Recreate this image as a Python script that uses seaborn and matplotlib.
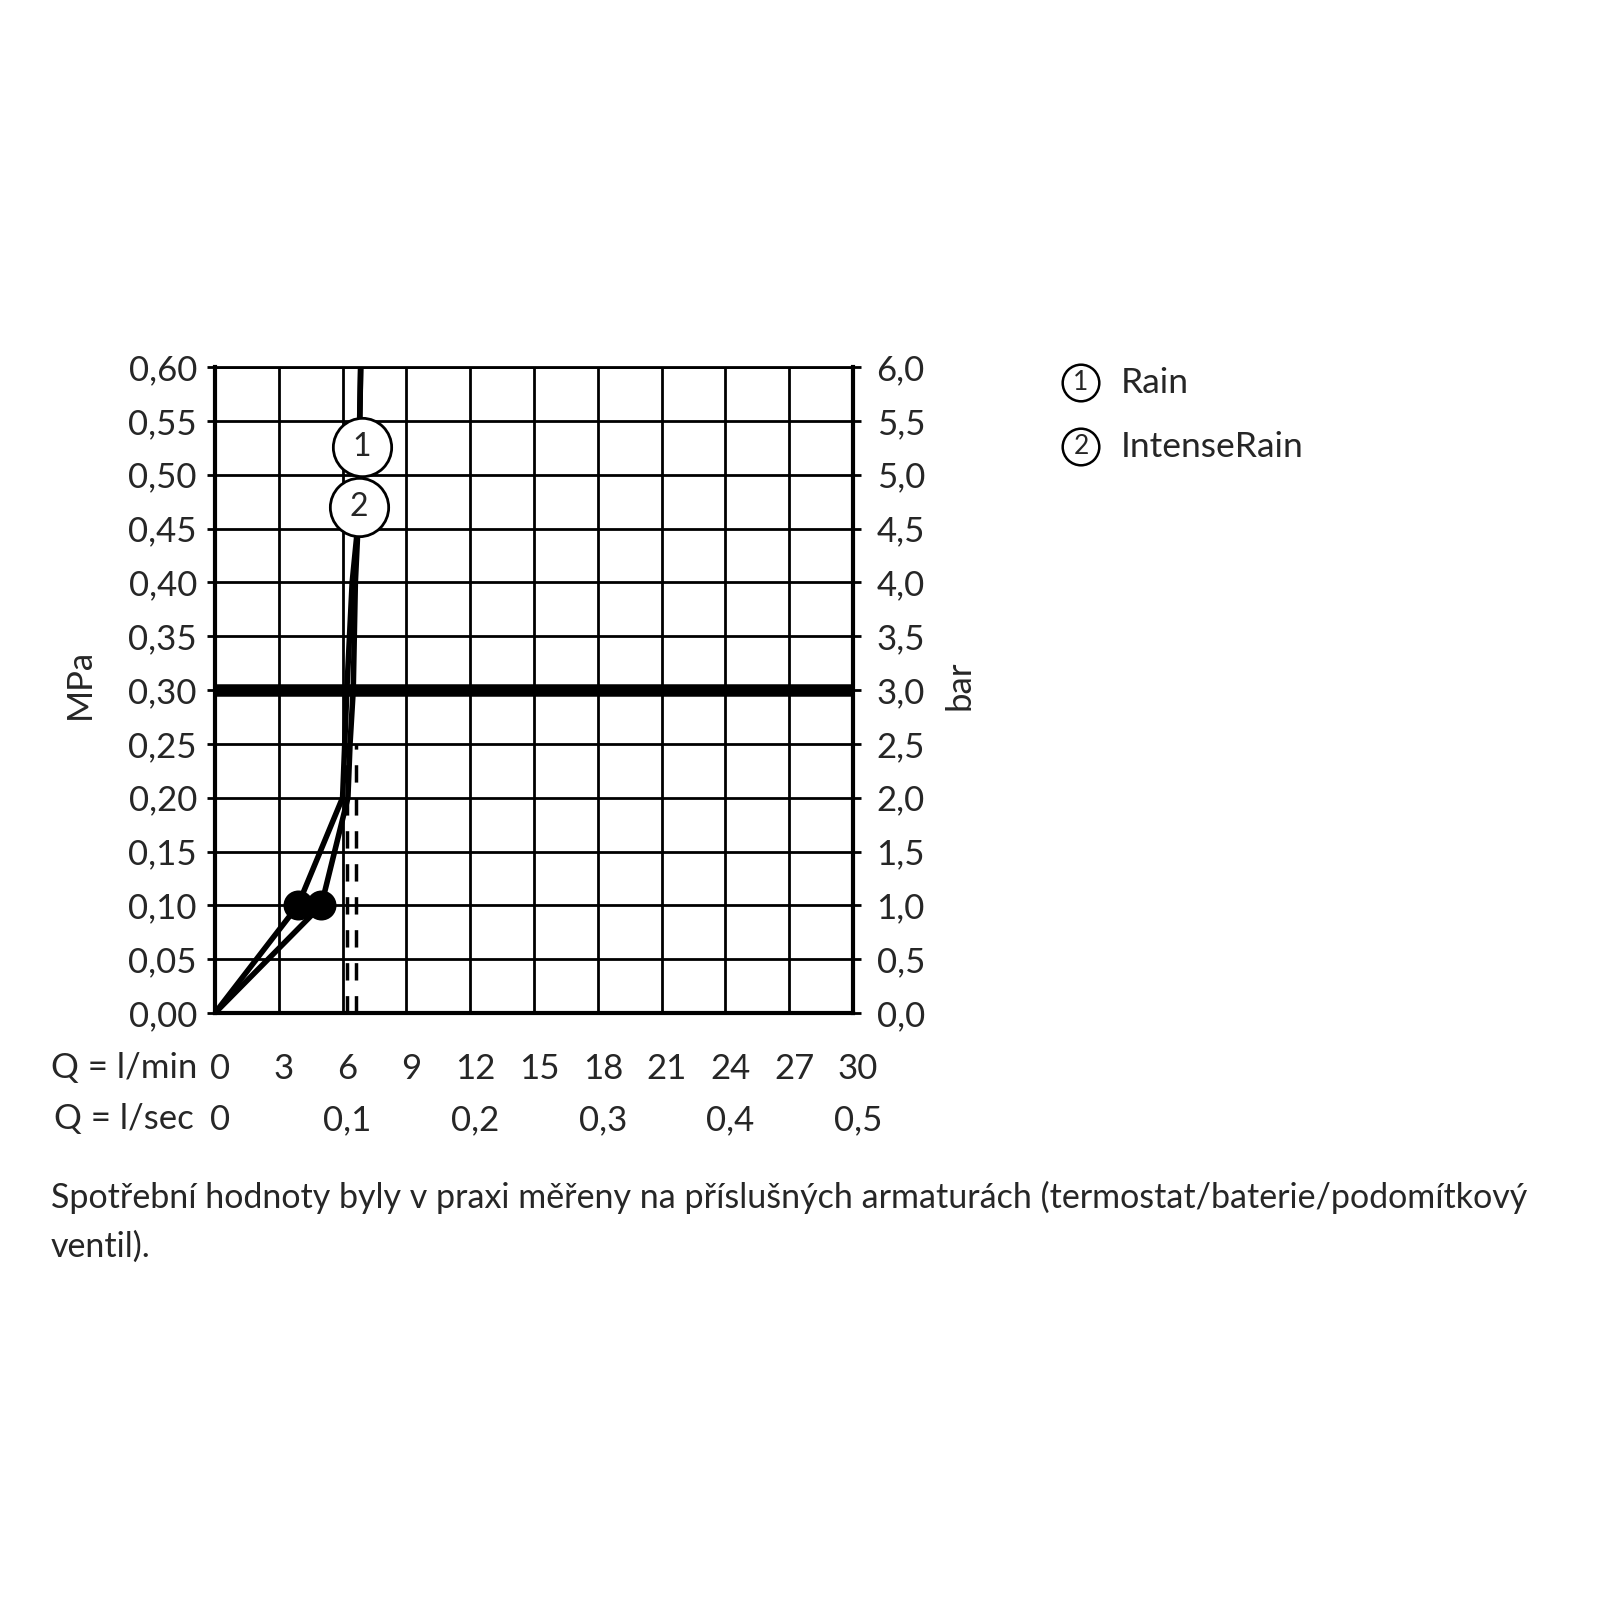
import matplotlib
matplotlib.use("Agg")
import matplotlib.pyplot as plt
import matplotlib.transforms as mtrans
import seaborn as sns
import pandas as pd

sns.set_theme(style="white")
plt.rcParams['font.family'] = ['Lato', 'DejaVu Sans']

# flow (l/min) vs pressure (MPa)
press = [0, 0.10, 0.20, 0.25, 0.30, 0.40, 0.45, 0.60]
flow_rain = [0, 3.9, 6.0, 6.1, 6.2, 6.45, 6.7, 6.85]
flow_intense = [0, 5.0, 6.25, 6.35, 6.5, 6.6, 6.72, 6.85]

# operating points at 0.1 MPa
dot_flow = [3.9, 5.0]
dot_press = [0.10, 0.10]

# dashed flow markers
dash_flow = [6.2, 6.65]
dash_top = 0.25

# circle labels on the curves
label_num = ["1", "2"]
label_flow = [6.89, 6.77]
label_press = [0.526, 0.47]

names = ["Rain", "IntenseRain"]

xticks = list(range(0, 31, 3))
yticks = [i * 0.05 for i in range(13)]
sec_ticks = [0, 0.1, 0.2, 0.3, 0.4, 0.5]
bar_ticks = [i * 0.5 for i in range(13)]

caption = ["Spotřební hodnoty byly v praxi měřeny na příslušných armaturách "
           "(termostat/baterie/podomítkový",
           "ventil)."]

df = pd.DataFrame({
    "flow": flow_rain + flow_intense,
    "pressure": press + press,
    "series": [names[0]] * len(press) + [names[1]] * len(press),
})

def comma(v, fmt):
    return format(v, fmt).replace(".", ",")

fs = 25

fig = plt.figure(figsize=(16, 16), dpi=100)
ax = fig.add_axes([215/1600, 1 - 1013/1600, 638/1600, 646/1600])

ax.set_xlim(0, 30)
ax.set_ylim(0, 0.60)
ax.set_xticks(xticks)
ax.set_yticks(yticks)
ax.grid(True, color="black", lw=2)
ax.set_axisbelow(True)

sns.lineplot(data=df, x="flow", y="pressure", hue="series", palette=["black", "black"],
             sort=False, estimator=None, legend=False, lw=4, ax=ax)
sns.scatterplot(x=dot_flow, y=dot_press, s=20**2, color="black", edgecolor="black", ax=ax, zorder=5)
ax.vlines(dash_flow, 0, dash_top, colors="black", lw=2.5, linestyles=(0, (5, 4.5)), zorder=4)
ax.axhline(0.30, color="black", lw=9, zorder=6)

for n, fx, fy in zip(label_num, label_flow, label_press):
    ax.scatter([fx], [fy], s=42**2, facecolor="white", edgecolor="black", lw=2, zorder=7, clip_on=False)
    ax.text(fx, fy, n, ha="center", va="center", fontsize=23, zorder=8)

ax.set_xticklabels([str(t) for t in xticks], fontsize=fs)
ax.set_yticklabels([comma(t, ".2f") for t in yticks], fontsize=fs)
ax.set_xlabel("")
ax.set_ylabel("")
ax.tick_params(axis="x", direction="out", length=6, width=2, pad=23, color="black")
ax.tick_params(axis="y", direction="out", length=6, width=2, pad=7, color="black")
shift = mtrans.ScaledTranslation(5/100, 0, fig.dpi_scale_trans)
for lbl in ax.get_xticklabels():
    lbl.set_transform(lbl.get_transform() + shift)
for s in ["left", "right", "bottom"]:
    ax.spines[s].set_linewidth(3)
    ax.spines[s].set_color("black")
ax.spines["top"].set_linewidth(2)
ax.spines["top"].set_color("black")

ax2 = ax.twinx()
ax2.set_ylim(0, 6)
ax2.set_yticks(bar_ticks)
ax2.set_yticklabels([comma(t, ".1f") for t in bar_ticks], fontsize=fs)
ax2.tick_params(axis="y", direction="out", length=6, width=2, pad=11, color="black")
for s in ax2.spines.values():
    s.set_visible(False)

sec = ax.secondary_xaxis(-51/646, functions=(lambda q: q / 60, lambda s: s * 60))
sec.set_xticks(sec_ticks)
sec.set_xticklabels(["0"] + [comma(t, ".1f") for t in sec_ticks[1:]], fontsize=fs)
sec.tick_params(axis="x", length=0, pad=29)
sec.spines["bottom"].set_visible(False)
for lbl in sec.get_xticklabels():
    lbl.set_transform(lbl.get_transform() + shift)

fig.text(197/1600, 1 - 1068/1600, "Q = l/min", ha="right", va="center", fontsize=fs)
fig.text(194/1600, 1 - 1119/1600, "Q = l/sec", ha="right", va="center", fontsize=fs)
fig.text(80/1600, 1 - 684/1600, "MPa", rotation=90, ha="center", va="center", fontsize=fs)
fig.text(960/1600, 1 - 685/1600, "bar", rotation=90, ha="center", va="center", fontsize=fs)

for i, name in enumerate(names):
    y = 1 - (383 + 64 * i) / 1600
    fig.text(1081/1600, y, str(i + 1), ha="center", va="center", fontsize=19,
             bbox=dict(boxstyle="circle,pad=0.22", fc="white", ec="black", lw=1.8))
    fig.text(1121/1600, y, name, ha="left", va="center", fontsize=25.5)

for i, line in enumerate(caption):
    fig.text(51/1600, 1 - (1197 + 50 * i) / 1600, line, ha="left", va="center", fontsize=24.5)

fig.savefig("out.png", dpi=100, facecolor="white")
